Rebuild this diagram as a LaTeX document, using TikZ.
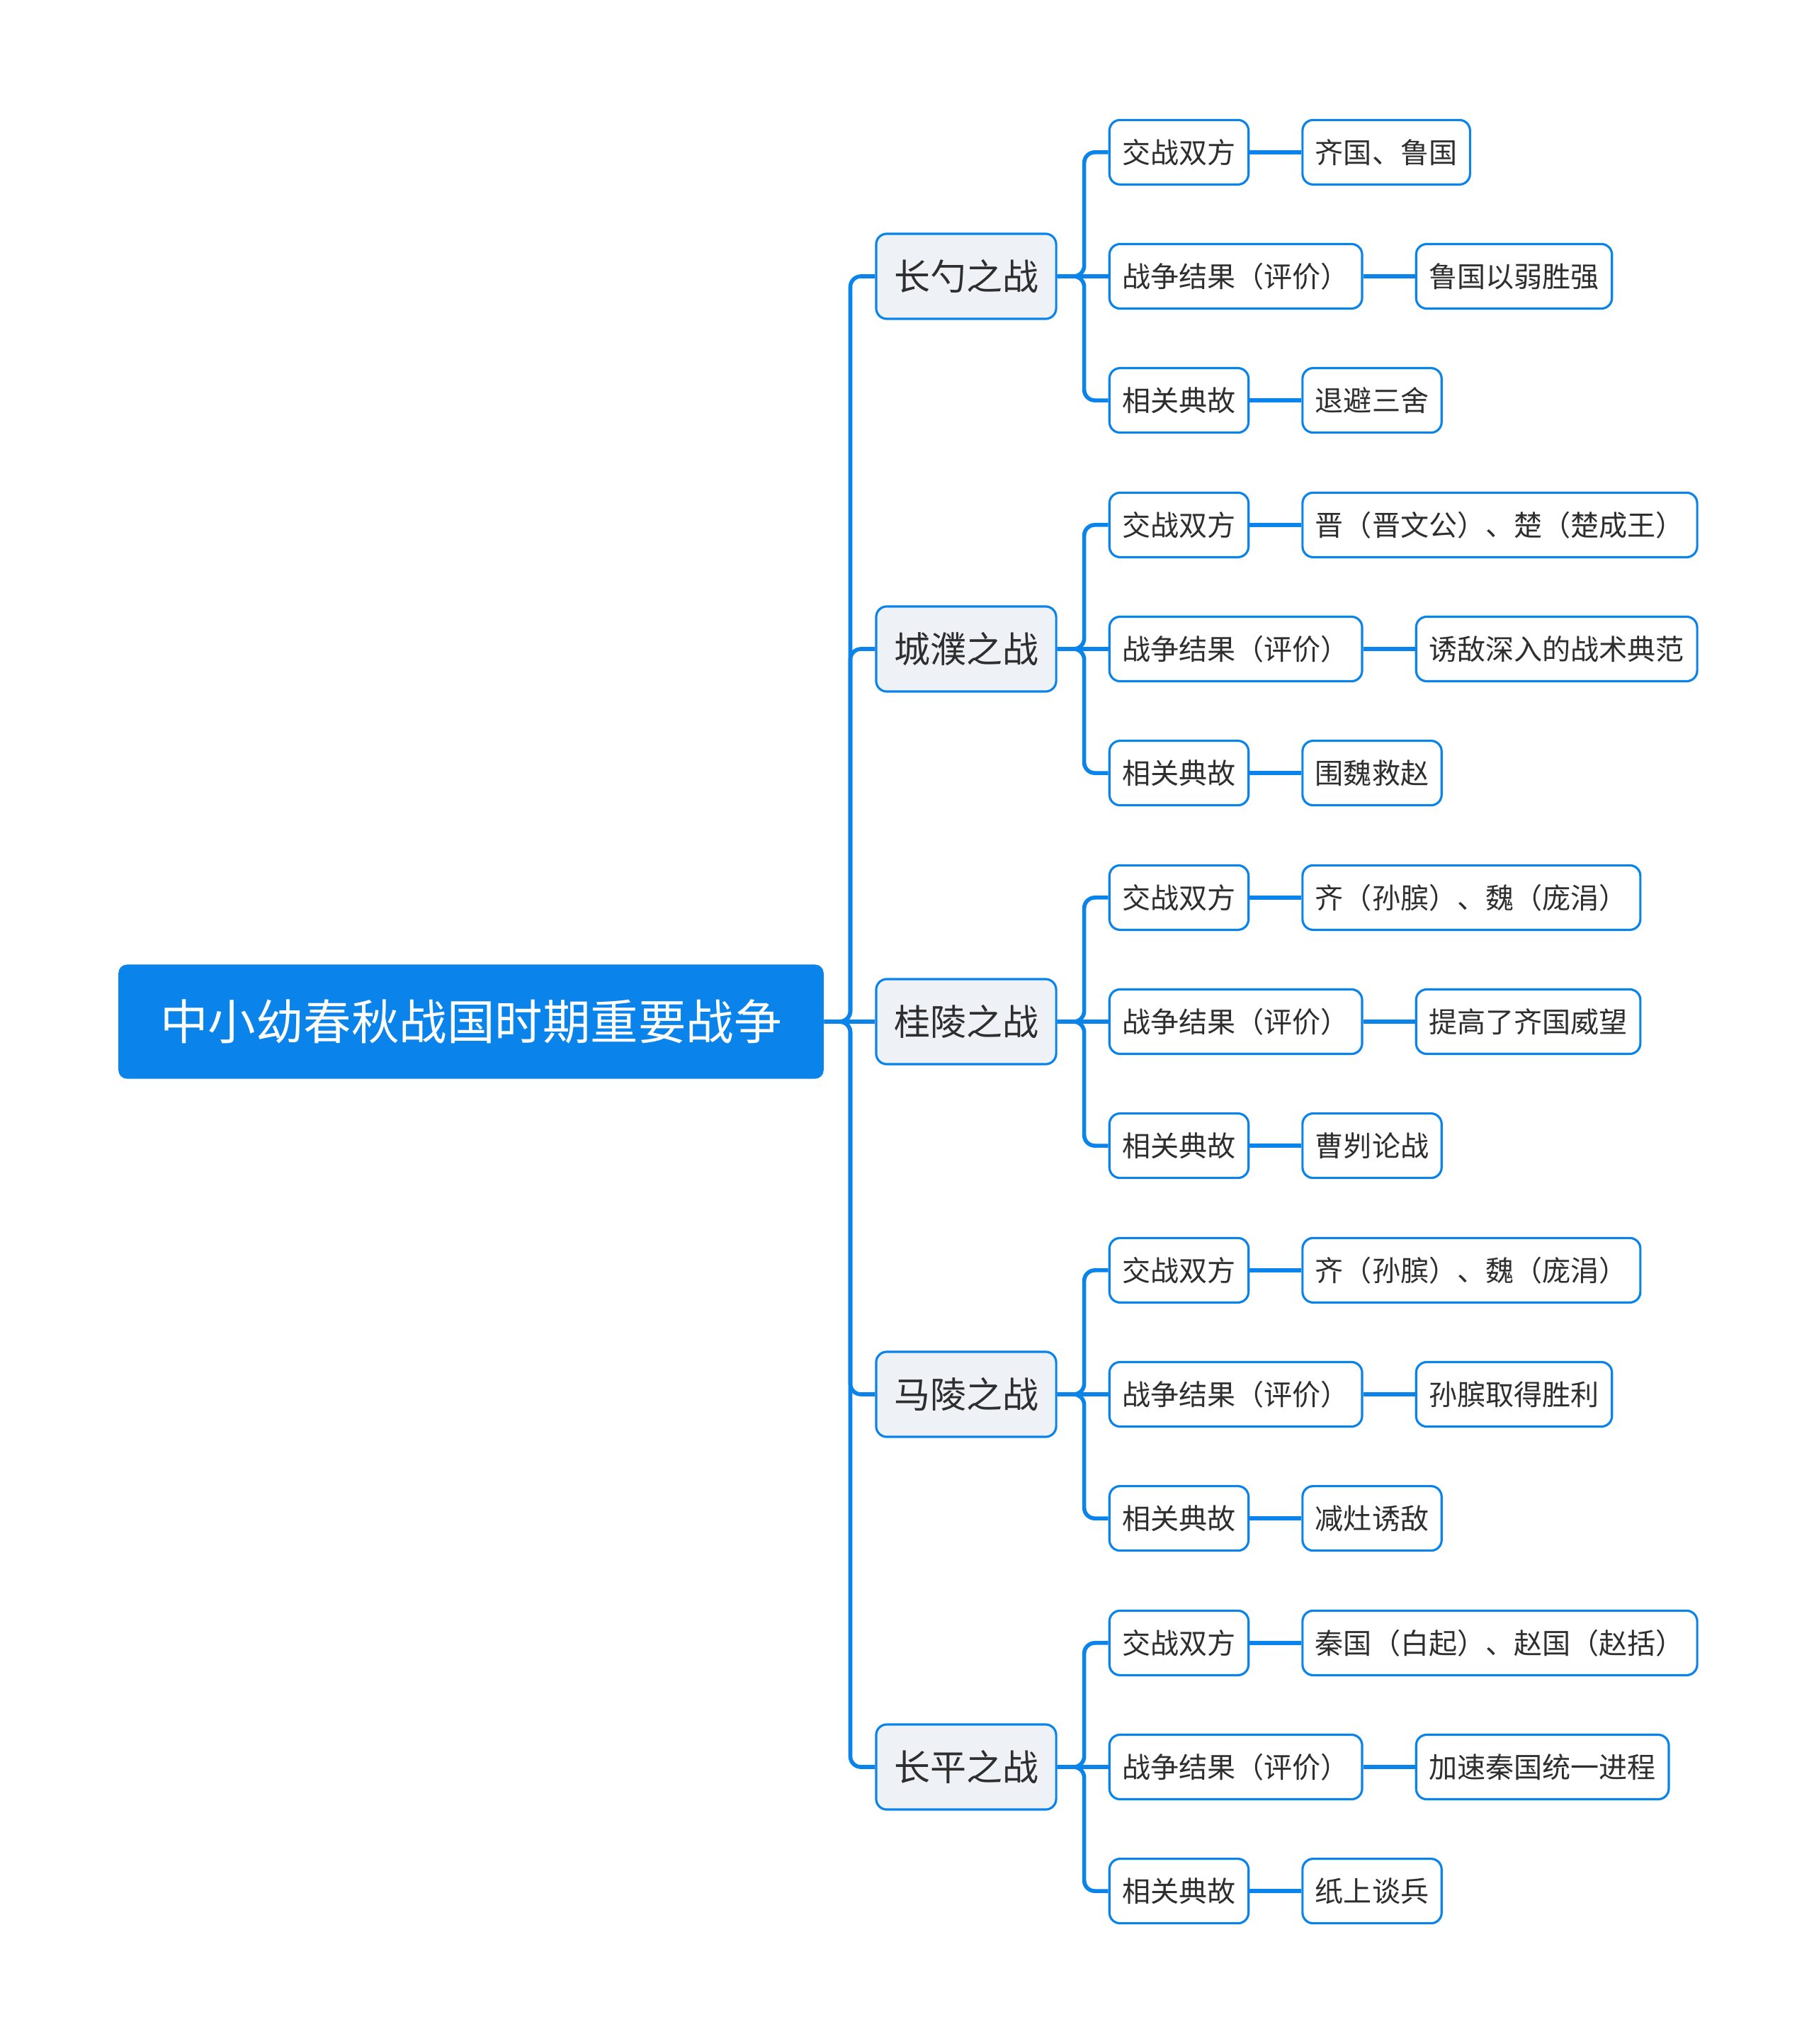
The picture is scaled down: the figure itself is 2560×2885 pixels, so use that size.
\documentclass[tikz,border=0pt]{standalone}
\usepackage{fontspec}
\setmainfont{Noto Sans CJK SC}
\usetikzlibrary{positioning}
\definecolor{mapblue}{HTML}{0A84EA}
\definecolor{topicfill}{HTML}{EEF2F6}
\definecolor{inktext}{HTML}{2E2E2E}

\begin{document}
\begin{tikzpicture}[x=0.01cm, y=-0.01cm,
    root/.style={fill=mapblue, text=white, rounded corners=0.12cm, minimum width=9.95cm, minimum height=1.61cm, font=\fontsize{19.2}{22}\selectfont},
    battle/.style={draw=mapblue, line width=0.9pt, fill=topicfill, text=inktext, rounded corners=0.15cm, minimum width=2.54cm, minimum height=1.2cm, font=\fontsize{14.5}{17}\selectfont},
    item/.style={draw=mapblue, line width=0.9pt, fill=white, text=inktext, rounded corners=0.15cm, minimum height=0.91cm, inner xsep=0.18cm, font=\fontsize{11.4}{14}\selectfont},
    link/.style={draw=mapblue, line width=1.6pt, rounded corners=0.15cm}]
    \useasboundingbox (0,0) rectangle (2560,2885);

    % root and battles
    \node[root] (root) at (665,1442) {中小幼春秋战国时期重要战争};
    \node[battle] (changshao) at (1364,390) {长勺之战};
    \node[battle] (chengpu) at (1364,916) {城濮之战};
    \node[battle] (guiling) at (1364,1442) {桂陵之战};
    \node[battle] (maling) at (1364,1968) {马陵之战};
    \node[battle] (changping) at (1364,2494) {长平之战};

    % 长勺之战
    \node[item, right=0.72cm of changshao, yshift=1.75cm] (changshao-a) {交战双方};
    \node[item, right=0.72cm of changshao] (changshao-b) {战争结果（评价）};
    \node[item, right=0.72cm of changshao, yshift=-1.75cm] (changshao-c) {相关典故};
    \node[item, right=0.73cm of changshao-a] (changshao-a1) {齐国、鲁国};
    \node[item, right=0.73cm of changshao-b] (changshao-b1) {鲁国以弱胜强};
    \node[item, right=0.73cm of changshao-c] (changshao-c1) {退避三舍};

    % 城濮之战
    \node[item, right=0.72cm of chengpu, yshift=1.75cm] (chengpu-a) {交战双方};
    \node[item, right=0.72cm of chengpu] (chengpu-b) {战争结果（评价）};
    \node[item, right=0.72cm of chengpu, yshift=-1.75cm] (chengpu-c) {相关典故};
    \node[item, right=0.73cm of chengpu-a] (chengpu-a1) {晋（晋文公）、楚（楚成王）};
    \node[item, right=0.73cm of chengpu-b] (chengpu-b1) {诱敌深入的战术典范};
    \node[item, right=0.73cm of chengpu-c] (chengpu-c1) {围魏救赵};

    % 桂陵之战
    \node[item, right=0.72cm of guiling, yshift=1.75cm] (guiling-a) {交战双方};
    \node[item, right=0.72cm of guiling] (guiling-b) {战争结果（评价）};
    \node[item, right=0.72cm of guiling, yshift=-1.75cm] (guiling-c) {相关典故};
    \node[item, right=0.73cm of guiling-a] (guiling-a1) {齐（孙膑）、魏（庞涓）};
    \node[item, right=0.73cm of guiling-b] (guiling-b1) {提高了齐国威望};
    \node[item, right=0.73cm of guiling-c] (guiling-c1) {曹刿论战};

    % 马陵之战
    \node[item, right=0.72cm of maling, yshift=1.75cm] (maling-a) {交战双方};
    \node[item, right=0.72cm of maling] (maling-b) {战争结果（评价）};
    \node[item, right=0.72cm of maling, yshift=-1.75cm] (maling-c) {相关典故};
    \node[item, right=0.73cm of maling-a] (maling-a1) {齐（孙膑）、魏（庞涓）};
    \node[item, right=0.73cm of maling-b] (maling-b1) {孙膑取得胜利};
    \node[item, right=0.73cm of maling-c] (maling-c1) {减灶诱敌};

    % 长平之战
    \node[item, right=0.72cm of changping, yshift=1.75cm] (changping-a) {交战双方};
    \node[item, right=0.72cm of changping] (changping-b) {战争结果（评价）};
    \node[item, right=0.72cm of changping, yshift=-1.75cm] (changping-c) {相关典故};
    \node[item, right=0.73cm of changping-a] (changping-a1) {秦国（白起）、赵国（赵括）};
    \node[item, right=0.73cm of changping-b] (changping-b1) {加速秦国统一进程};
    \node[item, right=0.73cm of changping-c] (changping-c1) {纸上谈兵};

    % trunk
    \draw[link] (root.east) -- ++(37,0) |- (changshao.west);
    \draw[link] (root.east) -- ++(37,0) |- (chengpu.west);
    \draw[link] (root.east) -- (guiling.west);
    \draw[link] (root.east) -- ++(37,0) |- (maling.west);
    \draw[link] (root.east) -- ++(37,0) |- (changping.west);

    % branches
    \draw[link] (changshao.east) -- ++(38,0) |- (changshao-a.west);
    \draw[link] (changshao.east) -- (changshao-b.west);
    \draw[link] (changshao.east) -- ++(38,0) |- (changshao-c.west);
    \draw[link] (chengpu.east) -- ++(38,0) |- (chengpu-a.west);
    \draw[link] (chengpu.east) -- (chengpu-b.west);
    \draw[link] (chengpu.east) -- ++(38,0) |- (chengpu-c.west);
    \draw[link] (guiling.east) -- ++(38,0) |- (guiling-a.west);
    \draw[link] (guiling.east) -- (guiling-b.west);
    \draw[link] (guiling.east) -- ++(38,0) |- (guiling-c.west);
    \draw[link] (maling.east) -- ++(38,0) |- (maling-a.west);
    \draw[link] (maling.east) -- (maling-b.west);
    \draw[link] (maling.east) -- ++(38,0) |- (maling-c.west);
    \draw[link] (changping.east) -- ++(38,0) |- (changping-a.west);
    \draw[link] (changping.east) -- (changping-b.west);
    \draw[link] (changping.east) -- ++(38,0) |- (changping-c.west);

    % leaves
    \draw[link] (changshao-a) -- (changshao-a1);
    \draw[link] (changshao-b) -- (changshao-b1);
    \draw[link] (changshao-c) -- (changshao-c1);
    \draw[link] (chengpu-a) -- (chengpu-a1);
    \draw[link] (chengpu-b) -- (chengpu-b1);
    \draw[link] (chengpu-c) -- (chengpu-c1);
    \draw[link] (guiling-a) -- (guiling-a1);
    \draw[link] (guiling-b) -- (guiling-b1);
    \draw[link] (guiling-c) -- (guiling-c1);
    \draw[link] (maling-a) -- (maling-a1);
    \draw[link] (maling-b) -- (maling-b1);
    \draw[link] (maling-c) -- (maling-c1);
    \draw[link] (changping-a) -- (changping-a1);
    \draw[link] (changping-b) -- (changping-b1);
    \draw[link] (changping-c) -- (changping-c1);
\end{tikzpicture}
\end{document}
